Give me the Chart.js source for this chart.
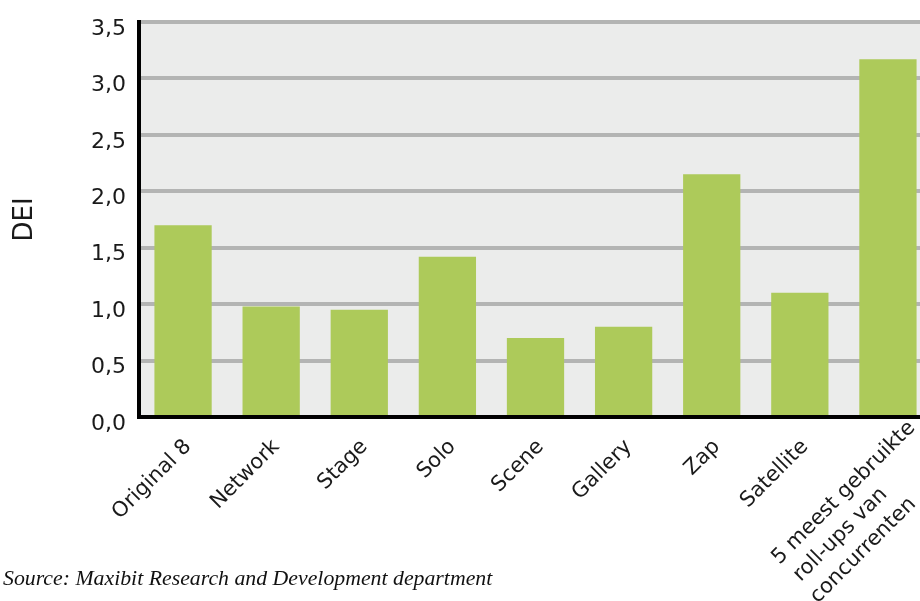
<!DOCTYPE html>
<html>
<head>
<meta charset="utf-8">
<script src="https://cdn.jsdelivr.net/npm/chart.js@4/dist/chart.umd.min.js"></script>
<style>
  html, body { margin: 0; padding: 0; background: #fff; }
  #wrap { position: relative; width: 920px; height: 601px; overflow: hidden; }
  #source {
    position: absolute; left: 3px; top: 566px;
    font-family: "Liberation Serif", serif; font-style: italic; font-size: 21.8px; color: #111;
    white-space: nowrap;
  }
</style>
</head>
<body>
<div id="wrap">
  <canvas id="deiChart" width="960" height="601"></canvas>
  <div id="source">Source: Maxibit Research and Development department</div>
</div>
<script>
// rotated labels are right-aligned by chart.js; trailing no-break spaces nudge them
// so the long last label sits like in the original (left-aligned, a bit higher)
const pad = (n) => '\u00a0'.repeat(n);
const categories = ["Original 8", "Network", "Stage", "Solo", "Scene", "Gallery", "Zap", "Satellite"]
  .map(c => c + pad(4))
  .concat([["5 meest gebruikte", "roll-ups van" + pad(10), "concurrenten" + pad(8)]]);
const deiValues = [1.70, 0.98, 0.95, 1.42, 0.70, 0.80, 2.15, 1.10, 3.17];
const yTicks = [0, 0.5, 1, 1.5, 2, 2.5, 3, 3.5];

const plotBackground = {
  id: 'plotBackground',
  beforeDraw(chart) {
    const {ctx, chartArea: a} = chart;
    ctx.save();
    ctx.fillStyle = '#ebeceb';
    ctx.fillRect(a.left, a.top, a.right - a.left, a.bottom - a.top);
    ctx.restore();
  }
};

const deiGraph = document.getElementById("deiChart");

const deiData = {
  labels: categories,
  datasets: [{
    data: deiValues,
    backgroundColor: '#adca5a',
    categoryPercentage: 1,
    barPercentage: 0.65
  }]
}

const barOptions = {
  responsive: false,
  devicePixelRatio: 1,
  animation: false,
  layout: { padding: { top: 22, right: 28, left: 0, bottom: 0 } },
  scales: {
    x: {
      afterFit: (s) => { s.height = 184; },
      grid: { display: false },
      border: { color: '#000', width: 4 },
      ticks: {
        color: '#1a1a1a',
        font: { family: 'DejaVu Sans', size: 21, lineHeight: 1.3 },
        autoSkip: false,
        maxRotation: 45,
        minRotation: 45,
        padding: -10,
        labelOffset: 24
      }
    },
    y: {
      min: 0,
      max: 3.5,
      afterFit: (s) => { s.width = 139; s.paddingTop = 0; s.paddingBottom = 0; },
      afterBuildTicks: (s) => { s.ticks = yTicks.map(v => ({value: v})); },
      grid: { color: '#b3b4b3', lineWidth: 4, drawTicks: false },
      border: { color: '#000', width: 4 },
      title: {
        display: true,
        text: 'DEI',
        color: '#1a1a1a',
        font: { family: 'DejaVu Sans', size: 26 },
        padding: { top: 10, bottom: 0 }
      },
      ticks: {
        color: '#1a1a1a',
        font: { family: 'DejaVu Sans', size: 22 },
        padding: 13,
        labelOffset: 7,
        callback: (v) => v.toFixed(1).replace('.', ',')
      }
    }
  },
  plugins: {
    legend: { display: false },
    tooltip: { enabled: false }
  }
}

let deiChart = new Chart(deiGraph, {type: 'bar', data: deiData, options: barOptions, plugins: [plotBackground]})
</script>
</body>
</html>
